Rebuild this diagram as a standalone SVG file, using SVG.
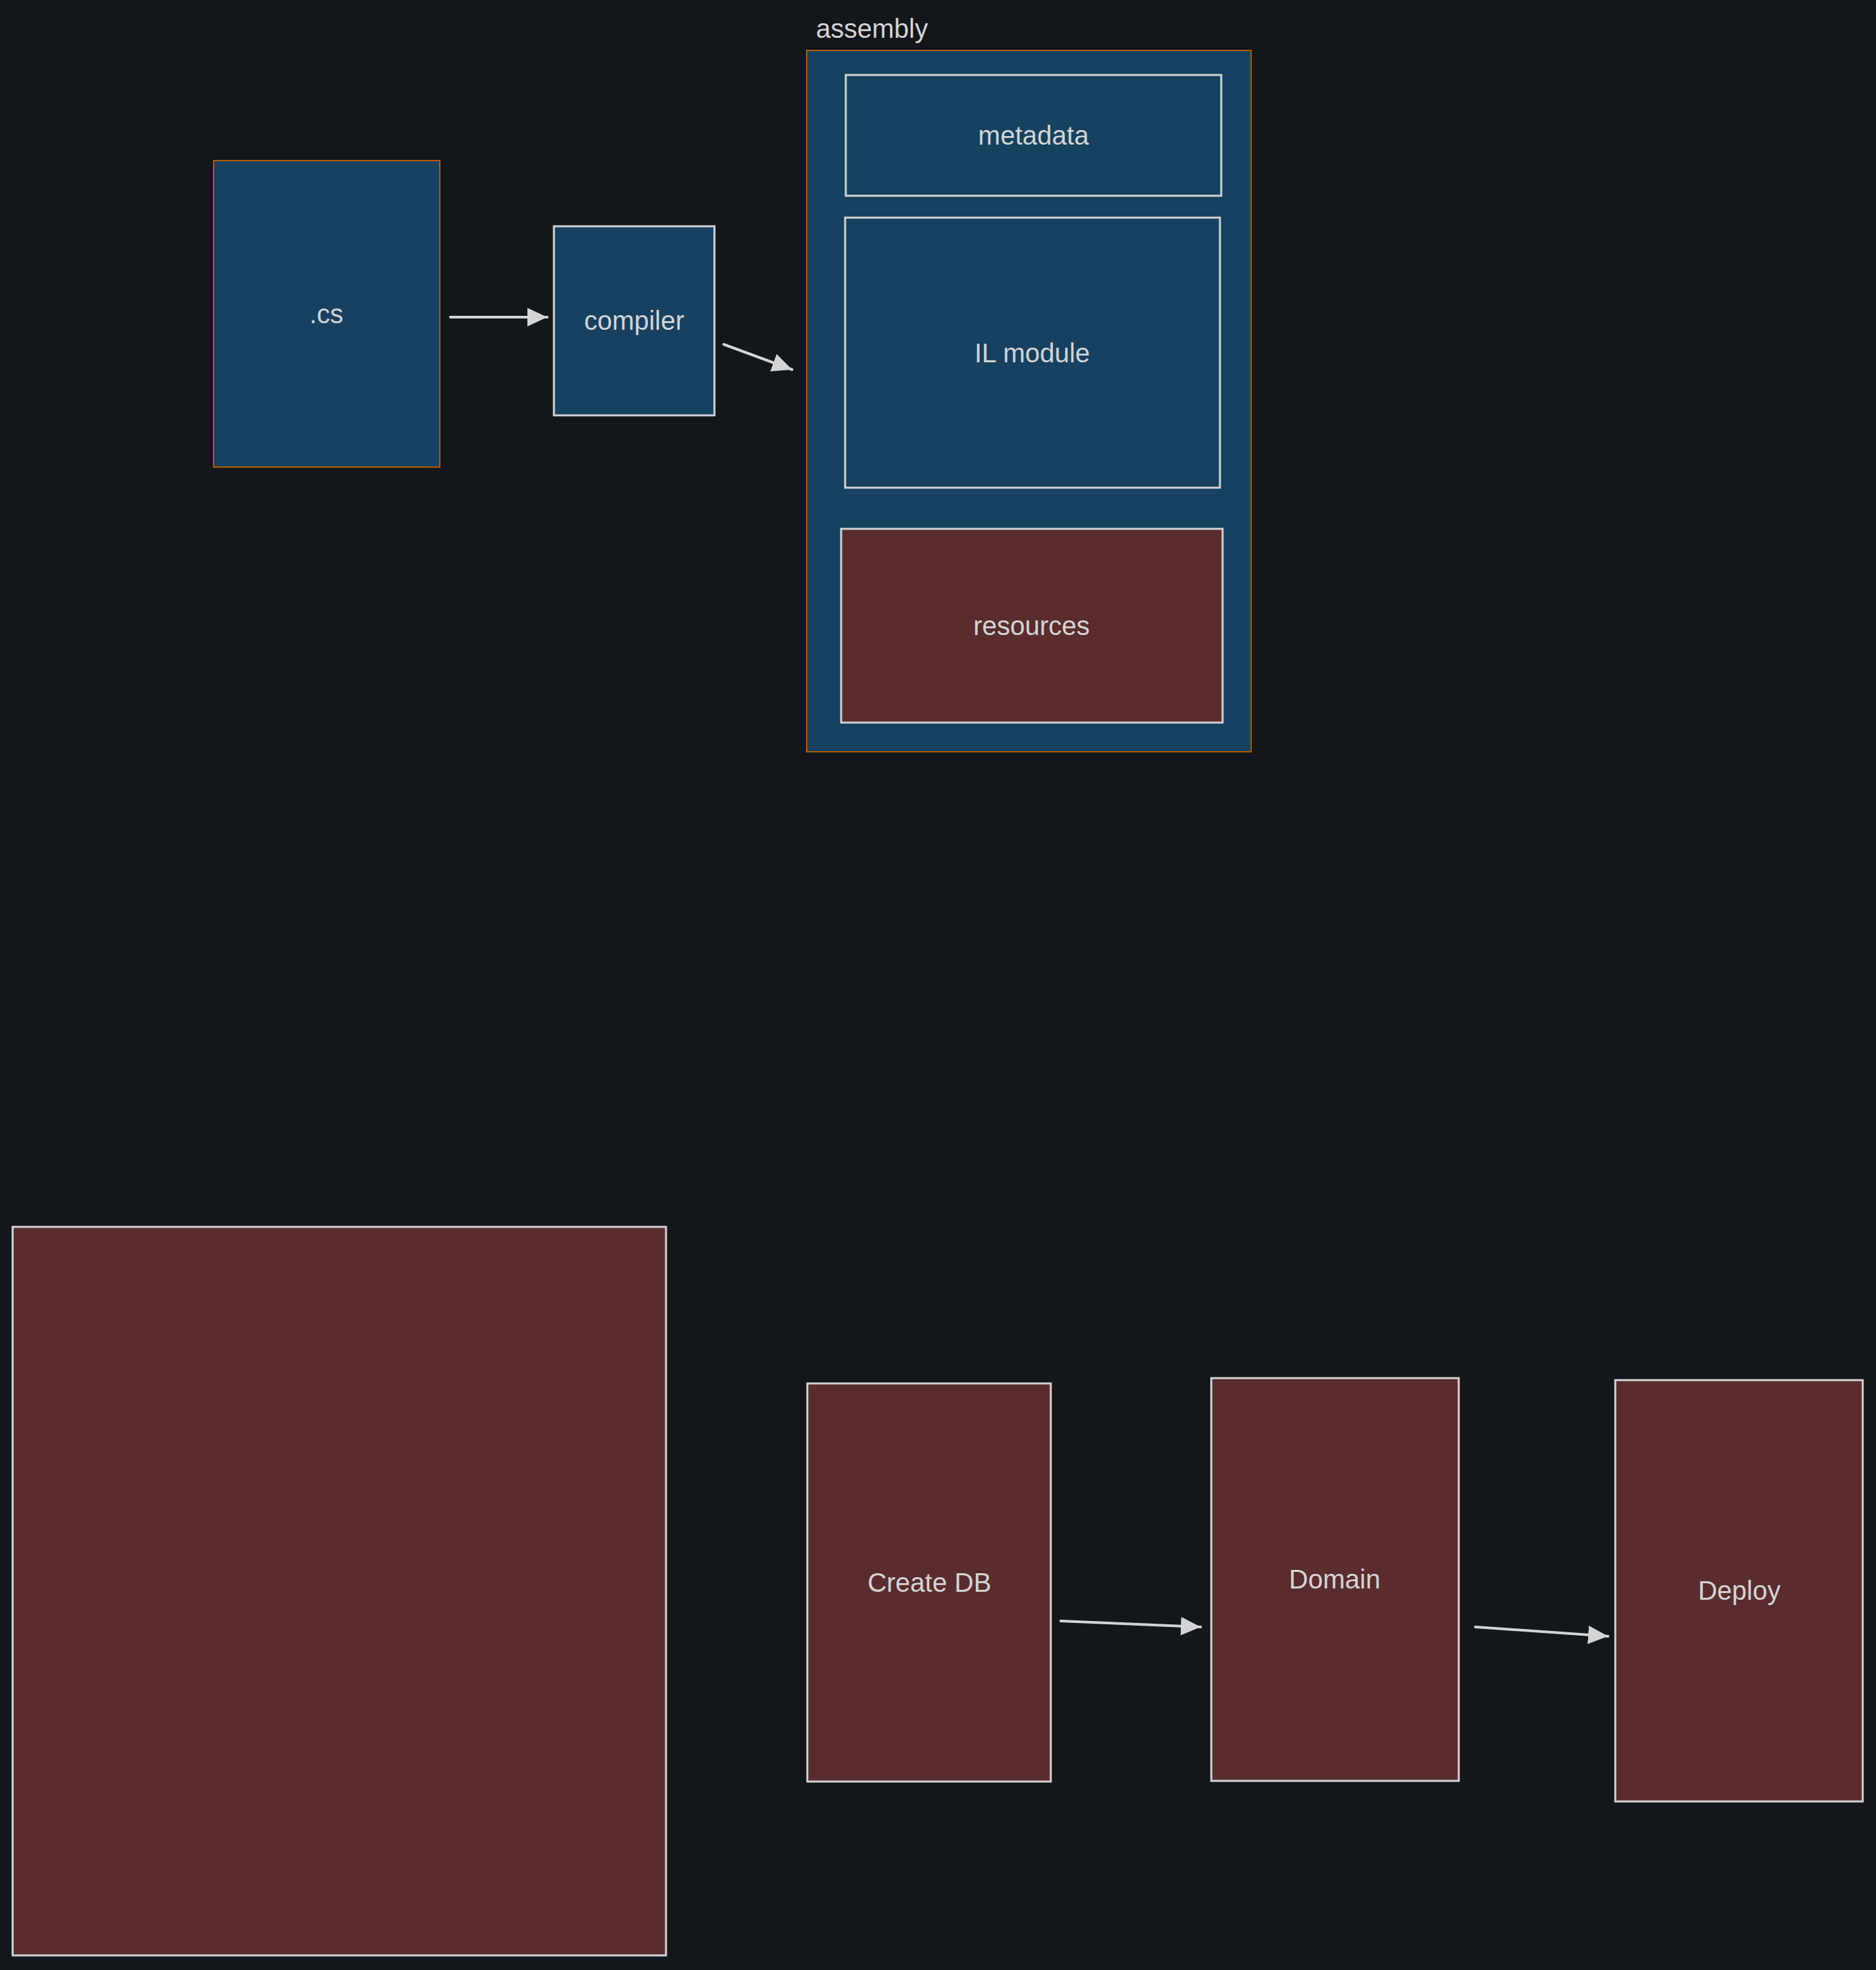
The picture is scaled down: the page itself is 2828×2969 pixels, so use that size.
<svg xmlns="http://www.w3.org/2000/svg" width="2828" height="2969" viewBox="0 0 2828 2969">
<style>
.bg{fill:#13161b}
.blue{fill:#164160}
.red{fill:#5a2c2e}
.ob{stroke:#b35c00;stroke-width:2}
.wb{stroke:#d4d4d4;stroke-width:3}
.t{font-family:"Liberation Sans",Arial,sans-serif;font-size:40px;fill:#d4d4d4;text-anchor:middle}
.tl{font-family:"Liberation Sans",Arial,sans-serif;font-size:40px;fill:#d4d4d4}
.c{stroke:#d4d4d4;stroke-width:4;fill:none;stroke-linecap:round}
</style>
<defs>
<marker id="ah" markerUnits="userSpaceOnUse" markerWidth="32" markerHeight="30" refX="30" refY="14" orient="auto">
<path d="M0,0 L30,14 L0,28 z" fill="#d4d4d4"/>
</marker>
</defs>
<rect class="bg" x="0" y="0" width="2828" height="2969"/>
<g id="cs">
<rect class="blue ob" x="322" y="242" width="341" height="462"/>
<text class="t" x="492" y="487">.cs</text>
</g>
<g id="compiler">
<rect class="blue wb" x="835" y="341" width="242" height="285"/>
<text class="t" x="956" y="497">compiler</text>
</g>
<g id="assembly">
<text class="tl" x="1230" y="57">assembly</text>
<rect class="blue ob" x="1216" y="76" width="670" height="1057"/>
</g>
<g id="metadata">
<rect class="blue wb" x="1275" y="113" width="566" height="182"/>
<text class="t" x="1558" y="218">metadata</text>
</g>
<g id="il-module">
<rect class="blue wb" x="1274" y="328" width="565" height="407"/>
<text class="t" x="1556" y="546">IL module</text>
</g>
<g id="resources">
<rect class="red wb" x="1268" y="797" width="575" height="292"/>
<text class="t" x="1555" y="957">resources</text>
</g>
<g id="big-box">
<rect class="red wb" x="19" y="1849" width="985" height="1098"/>
</g>
<g id="create-db">
<rect class="red wb" x="1217" y="2085" width="367" height="600"/>
<text class="t" x="1401" y="2399">Create DB</text>
</g>
<g id="domain">
<rect class="red wb" x="1826" y="2077" width="373" height="607"/>
<text class="t" x="2012" y="2394">Domain</text>
</g>
<g id="deploy">
<rect class="red wb" x="2435" y="2080" width="373" height="635"/>
<text class="t" x="2622" y="2411">Deploy</text>
</g>
<g id="connectors">
<line class="c" x1="679" y1="478" x2="825" y2="478" marker-end="url(#ah)"/>
<line class="c" x1="1091" y1="519" x2="1194" y2="557" marker-end="url(#ah)"/>
<line class="c" x1="1599" y1="2443" x2="1810" y2="2452" marker-end="url(#ah)"/>
<line class="c" x1="2224" y1="2452" x2="2424" y2="2466" marker-end="url(#ah)"/>
</g>
</svg>
